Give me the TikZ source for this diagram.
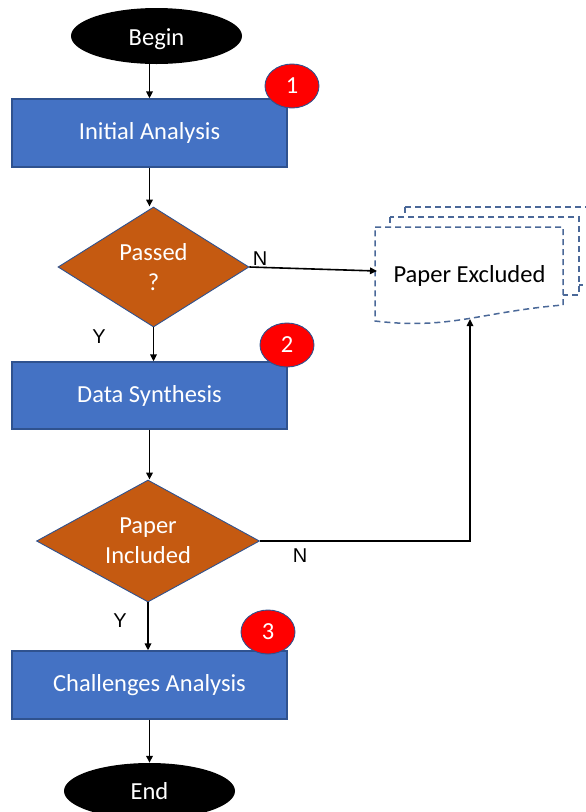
\documentclass[tikz,border=0pt]{standalone}
\usepackage{fontspec}
\setmainfont{Carlito}
\newfontfamily\ynfont{Liberation Sans}
\usetikzlibrary{shapes.geometric,arrows.meta}
\definecolor{boxblue}{HTML}{4472C4}
\definecolor{edgeblue}{HTML}{2F528F}
\definecolor{dorange}{HTML}{C55A11}
\definecolor{docline}{HTML}{4A6898}
\tikzset{
  big/.style={font=\fontsize{24.5}{30}\selectfont},
  procbox/.style={rectangle, draw=edgeblue, line width=1.3pt, fill=boxblue, text=white, big, minimum width=275pt, inner sep=0pt},
  decbox/.style={diamond, draw=edgeblue, line width=0.9pt, fill=dorange, text=white, big, align=center, inner sep=0pt},
  termbox/.style={ellipse, fill=black, text=white, big, minimum width=171pt, minimum height=56pt, inner sep=0pt},
  numbox/.style={ellipse, draw=edgeblue, line width=0.9pt, fill=red, text=white, big, minimum width=54pt, minimum height=44pt, inner sep=0pt},
  ynlabel/.style={font=\ynfont\fontsize{20}{24}\selectfont, text=black},
  arr/.style={line width=1.6pt, -{Triangle[length=7pt,width=6.5pt]}},
  page/.style={draw=docline, line width=1.5pt, dash pattern=on 6pt off 4pt, fill=white}
}
\begin{document}
\begin{tikzpicture}[x=1pt,y=-1pt]
\useasboundingbox (0,0) rectangle (586,812);
\clip (0,0) rectangle (586,812);
% document stack
\draw[page] (405,207) rectangle (600,285);
\draw[page] (390,217) rectangle (579,295);
\draw[page] (375,227) -- (563,227) -- (563,305) .. controls (480,312) and (450,330) .. (375,321) -- cycle;
\node[big, anchor=base] (doc) at (469.5,282) {Paper Excluded};
\coordinate (docL) at (377,271);
\coordinate (docB) at (470,319);
% main flow
\node[termbox] (begin) at (156.5,36) {};
\node[big, text=white, anchor=base] (begintext) at (156.5,45) {Begin};
\node[procbox, minimum height=68pt] (init) at (149.5,133) {Initial Analysis};
\node[decbox, minimum width=191pt, minimum height=120pt, aspect=1.6] (d1) at (153.5,267) {Passed\\?};
\node[procbox, minimum height=67pt] (ds) at (149.5,395.5) {Data Synthesis};
\node[decbox, minimum width=223pt, minimum height=122pt, aspect=1.8] (d2) at (148,541) {Paper\\Included};
\node[procbox, minimum height=68pt] (ch) at (149.5,685) {Challenges Analysis};
\node[termbox] (end) at (149.5,791) {End};
% numbers
\node[numbox] (n1) at (292,86) {1};
\node[numbox] (n2) at (287,345) {2};
\node[numbox] (n3) at (268,632) {3};
% connectors
\draw[arr] (begin.south -| init.north) -- (init.north);
\draw[arr] (init.south) -- (init.south |- d1.north);
\draw[arr] (d1.south) -- (d1.south |- ds.north);
\draw[arr] (ds.south) -- (ds.south |- d2.north);
\draw[arr] (d2.south) -- (d2.south |- ch.north);
\draw[arr] (ch.south) -- (end.north);
\draw[arr] (d1.east) -- (docL);
\draw[arr] (d2.east) -- (docB |- d2.east) -- (docB);
% labels
\node[ynlabel] (n1lab) at (260,259) {N};
\node[ynlabel] (n2lab) at (300,556) {N};
\node[ynlabel] (y1lab) at (99,337) {Y};
\node[ynlabel] (y2lab) at (120,621) {Y};
\end{tikzpicture}
\end{document}
